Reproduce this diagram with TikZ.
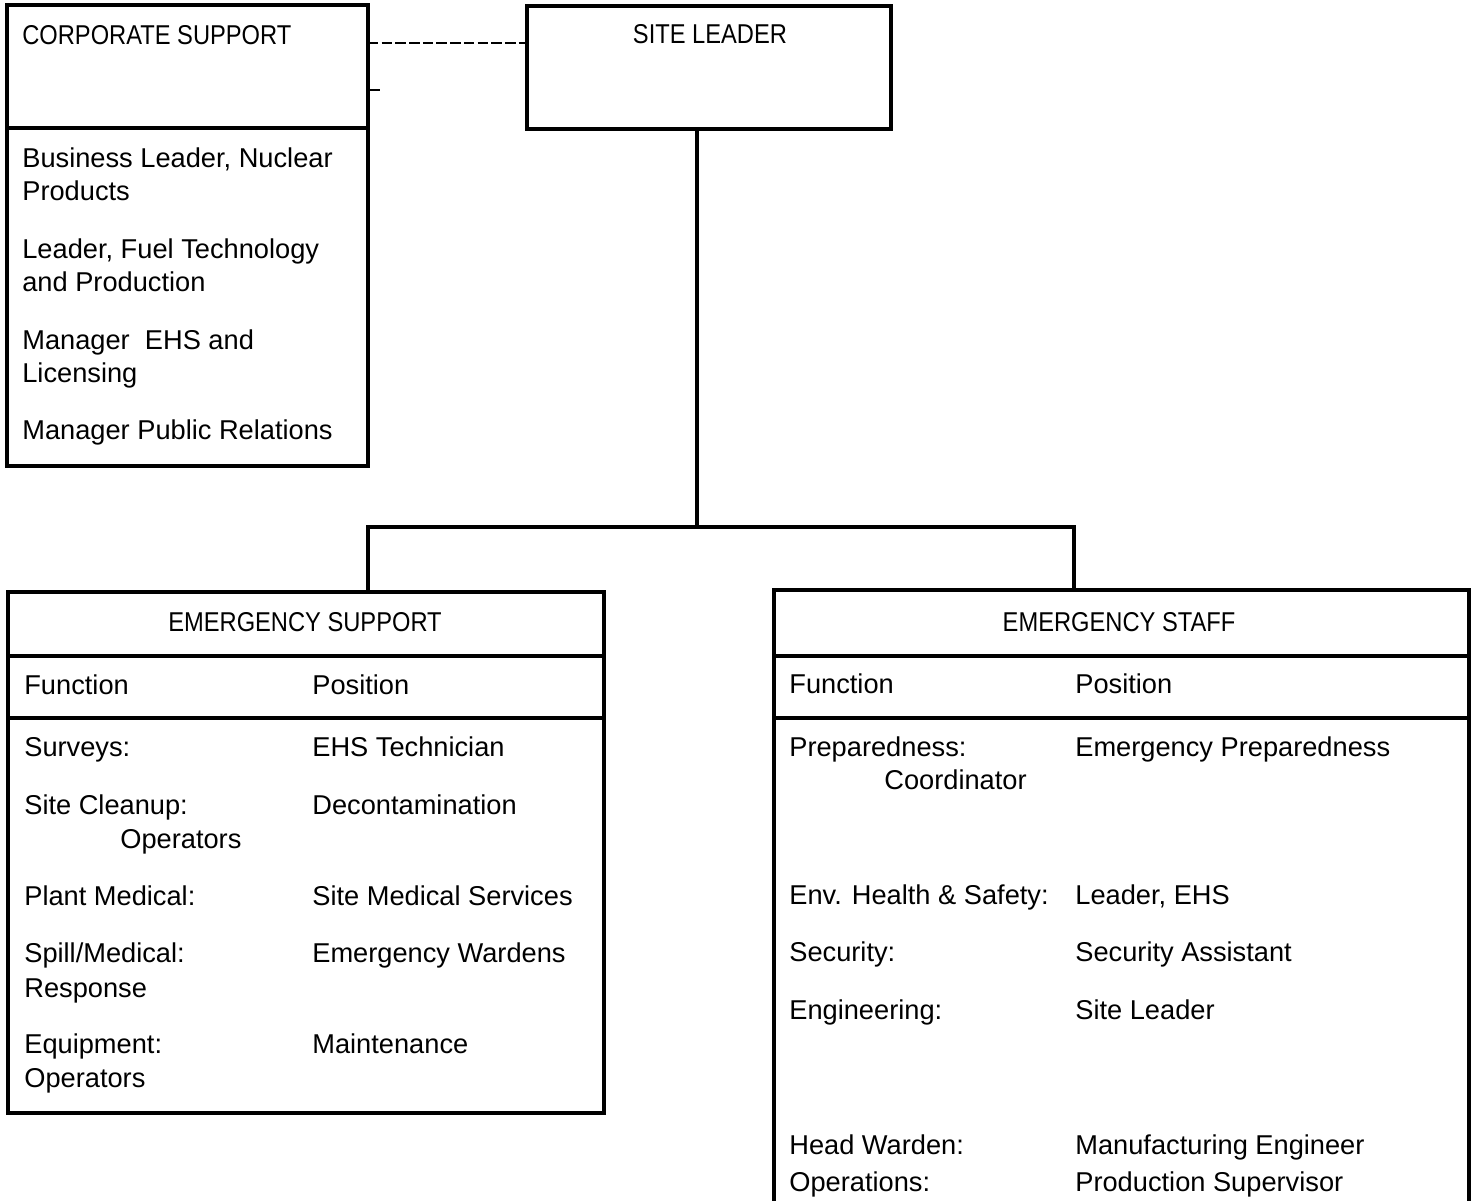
\documentclass[tikz,border=0pt]{standalone}
\usepackage{fontspec}
\setmainfont{Liberation Sans}
\newfontfamily\capsfamily[FakeStretch=0.87]{Liberation Sans}
\usepackage{tikz}
\usetikzlibrary{positioning}
\usetikzlibrary{calc}
\newcommand{\orgfont}{\fontsize{15.5}{18}\selectfont}
\newcommand{\capsfont}{\capsfamily\fontsize{15.5}{18}\selectfont}
\tikzset{orgbox/.style={draw, line width=2.4pt, inner sep=0pt, outer sep=0pt, anchor=north west}}
\tikzset{openbox/.style={inner sep=0pt, outer sep=0pt, anchor=north west}}
\tikzset{orgtext/.style={anchor=base west, inner sep=0pt, font=\orgfont}}
\tikzset{orgtitle/.style={anchor=base, inner sep=0pt, font=\capsfont}}
\tikzset{divider/.style={line width=2.2pt}}
\tikzset{link/.style={line width=2.5pt}}
\tikzset{dashlink/.style={line width=1.3pt, dash pattern=on 6pt off 1.8pt}}
\tikzset{ticklink/.style={line width=1.3pt}}

\begin{document}
\begin{tikzpicture}[x=0.02cm, y=-0.02cm]

\useasboundingbox (0,0) rectangle (1473,1201);

% boxes
\node[orgbox, minimum width=7.22cm, minimum height=9.22cm] (corp) at (7,5) {};
\node[orgbox, minimum width=7.28cm, minimum height=2.46cm] (site) at (527,6) {};
\node[orgbox, minimum width=11.92cm, minimum height=10.42cm] (esupp) at (8,592) {};
\node[openbox, minimum width=13.90cm, minimum height=12.22cm] (estaff) at (774,590) {};
\draw[line width=2.4pt] (estaff.south west) |- (estaff.north east) -- (estaff.south east);

% rules inside the boxes
\coordinate (corprule) at (0,128);
\coordinate (headrule) at (0,656);
\coordinate (bodyrule) at (0,718);
\draw[divider] (corp.west |- corprule) -- (corp.east |- corprule);
\draw[divider] (esupp.west |- headrule) -- (esupp.east |- headrule);
\draw[divider] (esupp.west |- bodyrule) -- (esupp.east |- bodyrule);
\draw[divider] (estaff.west |- headrule) -- (estaff.east |- headrule);
\draw[divider] (estaff.west |- bodyrule) -- (estaff.east |- bodyrule);

% connectors
\coordinate (dashrow) at (0,43);
\coordinate (tickend) at (380,90);
\coordinate (stem) at (697,527);
\coordinate (joinL) at (368,527);
\coordinate (joinR) at (1074,527);
\draw[dashlink] (corp.east |- dashrow) -- (site.west |- dashrow);
\draw[ticklink] (corp.east |- tickend) -- (tickend);
\draw[link] (site.south -| stem) -- (stem);
\draw[link] (esupp.north -| joinL) -- (joinL) -- (joinR) -- (estaff.north -| joinR);

% corporate support
\node[orgtitle, anchor=base west] (corptitle) at (22,44) {CORPORATE SUPPORT};
\node[orgtext] (corpA) at (22,167) {Business Leader, Nuclear};
\node[orgtext] (corpAb) at (22,200) {Products};
\node[orgtext] (corpB) at (22,258) {Leader, Fuel Technology};
\node[orgtext] (corpBb) at (22,291) {and Production};
\node[orgtext] (corpC) at (22,349) {Manager~ EHS and};
\node[orgtext] (corpCb) at (22,382) {Licensing};
\node[orgtext] (corpD) at (22,439) {Manager Public Relations};

% site leader
\node[orgtitle] (sitetitle) at (710,43) {SITE LEADER};

% emergency support
\node[orgtitle] (supptitle) at (305,631) {EMERGENCY SUPPORT};
\node[orgtext] (suppfunc) at (24,694) {Function};
\node[orgtext] (supppos) at (312,694) {Position};
\node[orgtext] (suppA) at (24,756) {Surveys:};
\node[orgtext] (suppAp) at (312,756) {EHS Technician};
\node[orgtext] (suppB) at (24,814) {Site Cleanup:};
\node[orgtext] (suppBb) at (120,848) {Operators};
\node[orgtext] (suppBp) at (312,814) {Decontamination};
\node[orgtext] (suppC) at (24,905) {Plant Medical:};
\node[orgtext] (suppCp) at (312,905) {Site Medical Services};
\node[orgtext] (suppD) at (24,962) {Spill/Medical:};
\node[orgtext] (suppDb) at (24,997) {Response};
\node[orgtext] (suppDp) at (312,962) {Emergency Wardens};
\node[orgtext] (suppE) at (24,1053) {Equipment:};
\node[orgtext] (suppEb) at (24,1087) {Operators};
\node[orgtext] (suppEp) at (312,1053) {Maintenance};

% emergency staff
\node[orgtitle] (stafftitle) at (1119,631) {EMERGENCY STAFF};
\node[orgtext] (stafffunc) at (789,693) {Function};
\node[orgtext] (staffpos) at (1075,693) {Position};
\node[orgtext] (staffA) at (789,756) {Preparedness:};
\node[orgtext] (staffAb) at (884,789) {Coordinator};
\node[orgtext] (staffAp) at (1075,756) {Emergency Preparedness};
\node[orgtext] (staffB) at (789,904) {Env. Health \& Safety:};
\node[orgtext] (staffBp) at (1075,904) {Leader, EHS};
\node[orgtext] (staffC) at (789,961) {Security:};
\node[orgtext] (staffCp) at (1075,961) {Security Assistant};
\node[orgtext] (staffD) at (789,1019) {Engineering:};
\node[orgtext] (staffDp) at (1075,1019) {Site Leader};
\node[orgtext] (staffE) at (789,1154) {Head Warden:};
\node[orgtext] (staffEp) at (1075,1154) {Manufacturing Engineer};
\node[orgtext] (staffF) at (789,1191) {Operations:};
\node[orgtext] (staffFp) at (1075,1191) {Production Supervisor};

\end{tikzpicture}
\end{document}
